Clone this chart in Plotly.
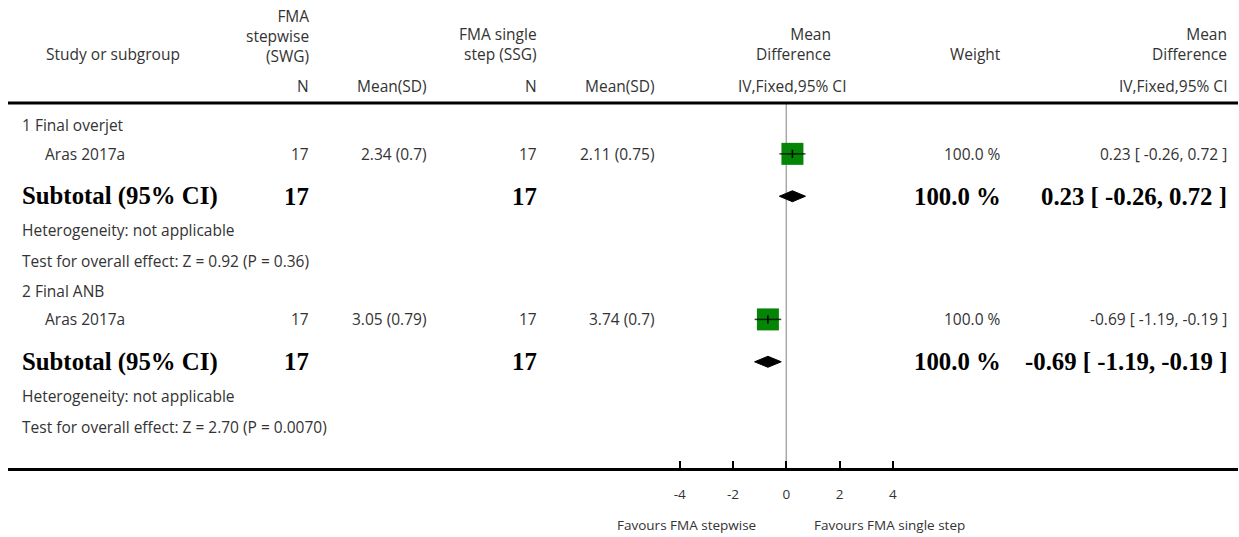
import plotly.graph_objects as go

# ---- data ----
subgroups = ["1 Final overjet", "2 Final ANB"]
studies = ["Aras 2017a", "Aras 2017a"]
n_swg = [17, 17]
mean_swg = [2.34, 3.05]
sd_swg = [0.7, 0.79]
n_ssg = [17, 17]
mean_ssg = [2.11, 3.74]
sd_ssg = [0.75, 0.7]
md = [0.23, -0.69]
ci_low = [-0.26, -1.19]
ci_high = [0.72, -0.19]
weights = [100.0, 100.0]
heterogeneity = ["not applicable", "not applicable"]
z_vals = ["0.92", "2.70"]
p_vals = ["0.36", "0.0070"]
tick_vals = [-4, -2, 0, 2, 4]
favours_left = "Favours FMA stepwise"
favours_right = "Favours FMA single step"

# ---- layout geometry ----
W, H = 1239, 537
ML, MR, MT, MB = 8, 1, 102.5, 68.5
PLOT_W = W - ML - MR
PLOT_H = H - MT - MB
X0_PX = 786.3          # pixel of zero on the effect axis
PX_PER_UNIT = 26.65
x_range = [-(X0_PX - ML) / PX_PER_UNIT, (W - MR - X0_PX) / PX_PER_UNIT]

FONT = "'Open Sans', Lato, sans-serif"
SERIF = "'Liberation Serif', 'DejaVu Serif', serif"
GREY_TXT = "#333333"
TXT_SIZE = 15.5
BOLD_SIZE = 24.8

# row offsets within a subgroup block (pixels below the top rule)
BLOCK_START = [22.5, 188.5]
ROW_OFF = {"head": 0, "study": 28.5, "subtotal": 71, "het": 105, "test": 136}

# column right edges / left edges (pixels)
COL_LABEL = 20
COL_STUDY = 43
COL_N1 = 311
COL_M1 = 429
COL_N2 = 539
COL_M2 = 657
COL_MDHDR = 833
COL_WEIGHT = 1003
COL_RES = 1229


def px_x(p):
    return (p - ML) / PLOT_W


def px_y(p):
    return (H - MB - p) / PLOT_H


annotations = []


def add_text(x_px, y_px, text, anchor="left", size=TXT_SIZE, bold=False, color=GREY_TXT,
             yref="y"):
    font = dict(family=SERIF if bold else FONT, size=size, color="black" if bold else color)
    if bold:
        text = "<b>" + text + "</b>"
    annotations.append(dict(
        x=px_x(x_px), xref="paper",
        y=(y_px if yref == "y" else px_y(y_px)), yref=yref,
        text=text, showarrow=False, xanchor=anchor, yanchor="middle", align=anchor,
        font=font,
    ))


# header
add_text(44, 53, "Study or subgroup", yref="paper")
add_text(COL_N1, 35, "FMA<br>stepwise<br>(SWG)", "right", yref="paper")
add_text(COL_N2, 43.5, "FMA single<br>step (SSG)", "right", yref="paper")
add_text(COL_MDHDR, 43.5, "Mean<br>Difference", "right", yref="paper")
add_text(COL_RES, 43.5, "Mean<br>Difference", "right", yref="paper")
add_text(COL_WEIGHT, 53, "Weight", "right", yref="paper")
add_text(COL_N1, 85, "N", "right", yref="paper")
add_text(COL_M1, 85, "Mean(SD)", "right", yref="paper")
add_text(COL_N2, 85, "N", "right", yref="paper")
add_text(COL_M2, 85, "Mean(SD)", "right", yref="paper")
annotations.append(dict(x=0, xref="x", y=px_y(85), yref="paper", text="IV,Fixed,95% CI",
                        showarrow=False, xanchor="center", yanchor="middle", xshift=6,
                        font=dict(family=FONT, size=TXT_SIZE, color=GREY_TXT)))
add_text(COL_RES, 85, "IV,Fixed,95% CI", "right", yref="paper")

fig = go.Figure()

for i in range(len(subgroups)):
    b = BLOCK_START[i]
    y_head = b + ROW_OFF["head"]
    y_st = b + ROW_OFF["study"]
    y_sub = b + ROW_OFF["subtotal"]
    y_het = b + ROW_OFF["het"]
    y_test = b + ROW_OFF["test"]
    res = f"{md[i]:.2f} [ {ci_low[i]:.2f}, {ci_high[i]:.2f} ]"

    add_text(COL_LABEL, y_head, subgroups[i])
    add_text(COL_STUDY, y_st, studies[i])
    add_text(COL_N1, y_st, str(n_swg[i]), "right")
    add_text(COL_M1, y_st, f"{mean_swg[i]} ({sd_swg[i]})", "right")
    add_text(COL_N2, y_st, str(n_ssg[i]), "right")
    add_text(COL_M2, y_st, f"{mean_ssg[i]} ({sd_ssg[i]})", "right")
    add_text(COL_WEIGHT, y_st, f"{weights[i]:.1f} %", "right")
    add_text(COL_RES, y_st, res, "right")

    add_text(COL_LABEL, y_sub, "Subtotal (95% CI)", size=BOLD_SIZE, bold=True)
    add_text(COL_N1, y_sub, str(n_swg[i]), "right", size=BOLD_SIZE, bold=True)
    add_text(COL_N2, y_sub, str(n_ssg[i]), "right", size=BOLD_SIZE, bold=True)
    add_text(COL_WEIGHT, y_sub, f"{weights[i]:.1f} %", "right", size=BOLD_SIZE, bold=True)
    add_text(COL_RES, y_sub, res, "right", size=BOLD_SIZE, bold=True)

    add_text(COL_LABEL, y_het, f"Heterogeneity: {heterogeneity[i]}")
    add_text(COL_LABEL, y_test, f"Test for overall effect: Z = {z_vals[i]} (P = {p_vals[i]})")

    # study: weighted square, CI line, centre tick
    fig.add_trace(go.Scatter(x=[md[i]], y=[y_st], mode="markers",
                             marker=dict(symbol="square", size=22 * weights[i] / 100.0,
                                         color="#058505", line=dict(width=0)),
                             hoverinfo="skip"))
    fig.add_trace(go.Scatter(x=[ci_low[i], ci_high[i]], y=[y_st, y_st], mode="lines",
                             line=dict(color="rgba(0,0,0,0.75)", width=1.5), hoverinfo="skip"))
    fig.add_trace(go.Scatter(x=[md[i]], y=[y_st], mode="markers",
                             marker=dict(symbol="line-ns", size=6,
                                         line=dict(color="black", width=1.5)),
                             hoverinfo="skip"))
    # subtotal diamond
    dh = 5.5
    fig.add_trace(go.Scatter(x=[ci_low[i], md[i], ci_high[i], md[i], ci_low[i]],
                             y=[y_sub, y_sub - dh, y_sub, y_sub + dh, y_sub],
                             mode="lines", fill="toself", fillcolor="black",
                             line=dict(color="black", width=1), hoverinfo="skip"))

# favours labels
annotations.append(dict(x=0, xref="x", y=px_y(526), yref="paper", text=favours_left,
                        showarrow=False, xanchor="right", yanchor="middle", xshift=-28,
                        font=dict(family=FONT, size=13.5, color=GREY_TXT)))
annotations.append(dict(x=0, xref="x", y=px_y(526), yref="paper", text=favours_right,
                        showarrow=False, xanchor="left", yanchor="middle", xshift=26,
                        font=dict(family=FONT, size=13.5, color=GREY_TXT)))

shapes = [
    # line of no effect
    dict(type="line", xref="x", yref="paper", x0=0, x1=0, y0=0, y1=1,
         line=dict(color="#a8a8a8", width=1.5), layer="below"),
    # top rule
    dict(type="line", xref="paper", yref="paper", x0=0, x1=1, y0=1, y1=1,
         line=dict(color="black", width=3)),
]

fig.update_layout(
    width=W, height=H,
    margin=dict(l=ML, r=MR, t=MT, b=MB, pad=0),
    paper_bgcolor="white", plot_bgcolor="white",
    showlegend=False,
    xaxis=dict(range=x_range, tickvals=tick_vals, ticktext=[str(v) for v in tick_vals],
               showgrid=False, zeroline=False, showline=True, linecolor="black", linewidth=3,
               ticks="inside", ticklen=7, tickwidth=2, tickcolor="black",
               ticklabelstandoff=12,
               tickfont=dict(family=FONT, size=13.5, color=GREY_TXT), fixedrange=True),
    yaxis=dict(range=[PLOT_H, 0], visible=False, fixedrange=True),
    annotations=annotations,
    shapes=shapes,
)

fig.write_html("out.html")
